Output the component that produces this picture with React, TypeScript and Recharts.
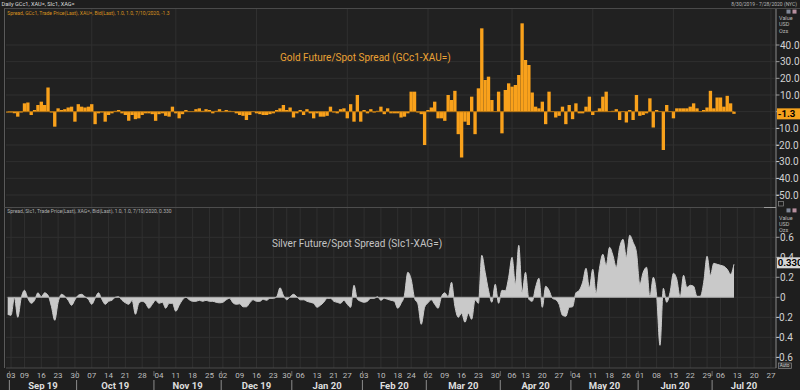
import React from 'react';
import { ComposedChart, Bar, Area, XAxis, YAxis, CartesianGrid, ReferenceLine } from 'recharts';

// ---- categories ----
const RANGE_START = '2019-08-30';
const RANGE_END = '2020-07-28';
const HOLIDAYS = ['2019-09-02', '2019-11-28', '2019-12-25', '2020-01-01', '2020-01-20', '2020-02-17', '2020-04-10', '2020-05-25', '2020-07-03'];

function tradingDays(start: string, end: string, holidays: string[]): string[] {
  const out: string[] = [];
  const d = new Date(start + 'T00:00:00Z');
  const e = new Date(end + 'T00:00:00Z');
  while (d <= e) {
    const wd = d.getUTCDay();
    const s = d.toISOString().slice(0, 10);
    if (wd !== 0 && wd !== 6 && holidays.indexOf(s) < 0) out.push(s);
    d.setUTCDate(d.getUTCDate() + 1);
  }
  return out;
}
const DATES = tradingDays(RANGE_START, RANGE_END, HOLIDAYS);

const WEEK_TICKS = [
  '2019-09-03', '2019-09-09', '2019-09-16', '2019-09-23', '2019-09-30',
  '2019-10-07', '2019-10-14', '2019-10-21', '2019-10-28',
  '2019-11-04', '2019-11-11', '2019-11-18', '2019-11-25',
  '2019-12-02', '2019-12-09', '2019-12-16', '2019-12-23', '2019-12-30',
  '2020-01-06', '2020-01-13', '2020-01-21', '2020-01-27',
  '2020-02-03', '2020-02-10', '2020-02-18', '2020-02-24',
  '2020-03-02', '2020-03-09', '2020-03-16', '2020-03-23', '2020-03-30',
  '2020-04-06', '2020-04-13', '2020-04-20', '2020-04-27',
  '2020-05-04', '2020-05-11', '2020-05-18', '2020-05-26',
  '2020-06-01', '2020-06-08', '2020-06-15', '2020-06-22', '2020-06-29',
  '2020-07-06', '2020-07-13', '2020-07-20', '2020-07-27',
];

const MONTHS: [string, string][] = [
  ['2019-09', 'Sep 19'], ['2019-10', 'Oct 19'], ['2019-11', 'Nov 19'], ['2019-12', 'Dec 19'],
  ['2020-01', 'Jan 20'], ['2020-02', 'Feb 20'], ['2020-03', 'Mar 20'], ['2020-04', 'Apr 20'],
  ['2020-05', 'May 20'], ['2020-06', 'Jun 20'], ['2020-07', 'Jul 20'],
];

const GOLD_TICKS = [-50, -40, -30, -20, -10, 0, 10, 20, 30, 40];
const SILVER_TICKS = [-0.6, -0.4, -0.2, 0, 0.2, 0.4, 0.6];

// ---- series values (GCc1 - XAU=, daily) ----
const GOLD = [
  -0.5, -0.5, -1, -3, -0.5, 5, 5.5, -2, 1, 4,
  6, 4, 14.5, -0.5, -9, 2, 1, 1.5, 2.5, 3,
  -6, 4.5, 3, 2.5, 3, 4.5, -7.5, -1, -0.5, -6,
  -2, -1, 0.5, 1, -1, -2, -5.5, -2, -4.5, -4,
  -2, -1, -1, -1.5, -5.5, -1.5, -1, -2.5, -3, 3,
  -1, -4, -1.5, 1, 0, 0, 1.5, 2, 0.5, 1.5,
  1, -1, 0.5, 1.5, 0, 1, 0.5, 0, -1, -2,
  -2.5, -5, -2, 0, -1, -1.5, -2, -2, -1.5, -1,
  1, 2, 4, 1, 2.5, -3.5, -1, 1, -2, 1.5,
  -1, -4, -1, -3, -3, -2.5, 3, -0.5, -1, 1.5,
  2, -4, 4.5, -6, 10, -6, 1, -1, 1.5, -0.5,
  0.5, 3, -1.5, 2, -1, -1, -1, -3.5, -3, -1,
  12, 12, -0.5, -1.5, -20, 1, 2.5, 6, -4, -4,
  -5.5, 10, 7, 12.5, -13.5, -27.5, -6, -8, 9, -13.5,
  14, 50, 19, 21, 7, 0, 12, -13, 13, 17,
  15, 16, 22, 53, 31, 28, 11.5, 3, 2, 6,
  -7.5, 12, 0, -3.5, -2.5, 3, -7.5, 4, -4.5, 5,
  -1, -1, 3, 9, -2, 0.5, 2, 9, 12, 0,
  0.5, 1.5, -5, 0, -6.5, 1, -5, 10, -2.5, -2,
  -1, 8, -9.5, 1, 0, -23, 4, 0, -4, 2,
  2, 2, 2, 3, 5, 2, 0, 1, 2.5, 12.5,
  2, 8.5, 8.5, 3, 9.5, 5, -1.3,
];

// ---- series values (SIc1 - XAG=, daily) ----
const SILVER = [
  -0.17, -0.18, 0, -0.2, -0.01, 0.07, -0.01, -0.06, -0.03, 0.045,
  0.005, 0.045, 0.02, -0.09, -0.23, -0.05, 0.03, 0.01, -0.03, -0.08,
  -0.025, 0.02, 0.03, 0.005, -0.02, -0.07, -0.01, 0.045, -0.02, -0.07,
  -0.04, -0.03, 0, 0.005, -0.03, -0.055, -0.07, -0.03, -0.17, -0.06,
  -0.04, -0.06, -0.11, -0.07, -0.03, -0.06, -0.05, -0.11, -0.06, -0.06,
  -0.14, -0.08, -0.025, 0, -0.025, -0.04, -0.04, -0.03, -0.04, -0.03,
  -0.04, -0.04, -0.05, -0.055, -0.05, -0.025, -0.01, -0.055, -0.07, -0.065,
  -0.095, -0.095, -0.055, -0.025, -0.04, -0.04, -0.02, -0.03, -0.01, -0.01,
  0.005, 0.095, 0.02, -0.025, 0.005, 0.03, 0.005, -0.025, -0.025, -0.04,
  -0.05, -0.06, -0.1, -0.08, -0.05, -0.01, -0.01, -0.04, -0.05, -0.06,
  -0.03, -0.07, -0.1, 0.12, -0.02, -0.04, -0.05, -0.04, -0.01, -0.01,
  0.005, -0.03, -0.01, -0.02, -0.03, -0.04, -0.11, -0.06, 0.02, 0.25,
  0.18, -0.01, -0.065, -0.27, -0.1, -0.055, -0.025, -0.07, -0.11, 0.005,
  0.045, 0.005, 0.15, -0.09, -0.2, -0.16, -0.25, -0.16, -0.22, -0.025,
  -0.06, 0.42, 0.25, 0.07, -0.05, 0.13, -0.06, 0.07, 0.065, 0.2,
  0.4, 0.13, 0.52, 0.05, 0.25, -0.02, -0.04, 0.1, 0.19, -0.1,
  0.11, 0.07, -0.01, -0.025, -0.07, -0.18, -0.19, -0.1, -0.095, 0.045,
  0.07, 0.15, 0.29, 0.095, 0.28, 0.04, 0.29, 0.43, 0.32, 0.5,
  0.42, 0.3, 0.5, 0.58, 0.4, 0.62, 0.55, 0.45, 0.13, 0.25,
  0.3, 0, 0.2, 0.02, -0.48, 0.09, -0.05, 0.05, 0.24, 0.18,
  0, 0.22, 0.1, 0.12, 0.11, 0.01, 0.01, 0.15, 0.41, 0.22,
  0.34, 0.33, 0.32, 0.31, 0.28, 0.23, 0.33,
];

// ---- layout / style ----
const FONT = "Roboto, 'Liberation Sans', Arial, sans-serif";
const W = 800;
const PLOT_LEFT = 6;
const AXIS_W = 24;
const BW = (W - PLOT_LEFT - AXIS_W) / DATES.length;
const BG = '#1e1e1e';
const PLOT_BG = '#212121';
const GRID = '#303030';
const ORANGE = '#f9a11b';
const SILVER_C = '#c9c9c9';

const DATA = DATES.map((d, i) => ({
  d,
  gold: i < GOLD.length ? GOLD[i] : null,
  silver: i < SILVER.length ? SILVER[i] : null,
}));
const LAST_DATE = DATES[GOLD.length - 1];
const GOLD_LAST = GOLD[GOLD.length - 1];
const SILVER_LAST = SILVER[SILVER.length - 1];

const WEEK_SET = new Set(WEEK_TICKS);
const MONTH_INFO: Record<string, { label: string; n: number }> = {};
MONTHS.forEach(([pre, label]) => {
  const days = DATES.filter((d) => d.startsWith(pre));
  if (days.length) MONTH_INFO[days[0]] = { label, n: days.length };
});
const X_TICKS = DATES.filter((d) => WEEK_SET.has(d) || MONTH_INFO[d]);

// y tick: plain ticks, plus the "last value" box drawn last (on top)
const YTick = (p: any) => {
  const { x, y, payload, fmt, boxValue, boxText, boxBg, boxDy, hideValue } = p;
  const v = Number(payload.value);
  if (payload.index === p.boxIndex && v === boxValue) {
    return (
      <g>
        <rect x={x + 1} y={y - 5.5 + boxDy} width={23} height={11} fill={boxBg} />
        <text x={x + 1.8} y={y + 3.6 + boxDy} fontSize={9.6} fontWeight="bold" fill="#000" fontFamily={FONT}>
          {boxText}
        </text>
      </g>
    );
  }
  const neg = v < 0;
  return (
    <g>
      <line x1={x} x2={x + 3.5} y1={y} y2={y} stroke="#9c9c9c" strokeWidth={1} />
      {v !== hideValue && (
        <text x={neg ? x + 0.3 : x + 4} y={y + 3.6} fontSize={10} fill="#d2d2d2" fontFamily={FONT}>
          {fmt(v)}
        </text>
      )}
    </g>
  );
};

const XTick = (p: any) => {
  const { x, y, payload } = p;
  const d = String(payload.value);
  const m = MONTH_INFO[d];
  const sx = x - BW / 2;
  return (
    <g fontFamily={FONT}>
      {WEEK_SET.has(d) && (
        <text x={x} y={y + 10} textAnchor="middle" fontSize={8} fill="#bdbdbd">
          {d.slice(8)}
        </text>
      )}
      {m && <line x1={sx} x2={sx} y1={y + 3} y2={y + 8} stroke="#6a6a6a" />}
      {m && <line x1={sx} x2={sx} y1={y + 12} y2={y + 22} stroke="#8c8c8c" />}
      {m && (
        <text x={sx + (m.n * BW) / 2} y={y + 20.5} textAnchor="middle" fontSize={9.5} fontWeight="bold" fill="#dedede">
          {m.label}
        </text>
      )}
    </g>
  );
};

const GOLD_AXIS_TICKS = [...GOLD_TICKS, GOLD_LAST];
const SILVER_AXIS_TICKS = [...SILVER_TICKS, SILVER_LAST];

const TopChart = () => (
  <ComposedChart
    width={W}
    height={207}
    data={DATA}
    margin={{ top: 9, right: 0, bottom: 0, left: PLOT_LEFT }}
    barCategoryGap={0}
    barGap={0}
  >
    <CartesianGrid stroke={GRID} fill={PLOT_BG} verticalValues={WEEK_TICKS} horizontalValues={GOLD_TICKS} />
    <XAxis dataKey="d" hide ticks={WEEK_TICKS} />
    <YAxis
      orientation="right"
      width={AXIS_W}
      domain={[-57.2, 61.6]}
      ticks={GOLD_AXIS_TICKS}
      allowDataOverflow
      axisLine={{ stroke: '#8a8a8a' }}
      tickLine={false}
      tickSize={0}
      tickMargin={0}
      interval={0}
      tick={(p: any) => (
        <YTick
          {...p}
          fmt={(v: number) => v.toFixed(1)}
          boxIndex={GOLD_AXIS_TICKS.length - 1}
          boxValue={GOLD_LAST}
          boxText={GOLD_LAST.toFixed(1)}
          boxBg="#f5a21d"
          boxDy={0}
          hideValue={0}
        />
      )}
    />
    <Bar dataKey="gold" fill={ORANGE} barSize={BW - 0.01} isAnimationActive={false} />
    <ReferenceLine
      segment={[{ x: DATES[0], y: 0 }, { x: LAST_DATE, y: 0 }]}
      stroke="#b77612"
      strokeWidth={1}
    />
  </ComposedChart>
);

const BottomChart = () => (
  <ComposedChart width={W} height={183} data={DATA} margin={{ top: 0, right: 0, bottom: 0, left: PLOT_LEFT }}>
    <CartesianGrid stroke={GRID} fill={PLOT_BG} verticalValues={WEEK_TICKS} horizontalValues={SILVER_TICKS} />
    <XAxis
      dataKey="d"
      scale="band"
      height={22}
      ticks={X_TICKS}
      interval={0}
      axisLine={{ stroke: '#4a4a4a' }}
      tickLine={false}
      tickSize={0}
      tickMargin={0}
      tick={(p: any) => <XTick {...p} />}
    />
    <YAxis
      orientation="right"
      width={AXIS_W}
      domain={[-0.707, 0.903]}
      ticks={SILVER_AXIS_TICKS}
      allowDataOverflow
      axisLine={{ stroke: '#8a8a8a' }}
      tickLine={false}
      tickSize={0}
      tickMargin={0}
      interval={0}
      tick={(p: any) => (
        <YTick
          {...p}
          fmt={(v: number) => (v === 0 ? '0' : v.toFixed(1))}
          boxIndex={SILVER_AXIS_TICKS.length - 1}
          boxValue={SILVER_LAST}
          boxText={SILVER_LAST.toFixed(3)}
          boxBg="#d6d6d6"
          boxDy={-1.5}
          hideValue={null}
        />
      )}
    />
    <Area
      dataKey="silver"
      type="monotone"
      stroke={SILVER_C}
      strokeWidth={1}
      fill={SILVER_C}
      fillOpacity={1}
      baseValue={0}
      isAnimationActive={false}
    />
    <ReferenceLine
      segment={[{ x: DATES[0], y: 0 }, { x: LAST_DATE, y: 0 }]}
      stroke="#a8a8a8"
      strokeWidth={1}
    />
  </ComposedChart>
);

const Buttons = ({ y }: { y: number }) => (
  <g>
    <rect x={786.5} y={y} width={4} height={4} fill="#7f8798" />
    <rect x={792.5} y={y} width={4} height={4} fill="#b78f9e" />
  </g>
);

const Overlay = () => (
  <svg width={W} height={390} style={{ position: 'absolute', left: 0, top: 0, pointerEvents: 'none' }} fontFamily={FONT}>
    {/* panel frame */}
    <line x1={4} x2={800} y1={8.5} y2={8.5} stroke="#4a4a4a" />
    <line x1={4.5} x2={4.5} y1={8.5} y2={368} stroke="#5a5a5a" />
    <line x1={4} x2={776} y1={207.5} y2={207.5} stroke="#4d4d4d" />
    <line x1={764} x2={776} y1={207.5} y2={207.5} stroke="#9a9a9a" />
    {/* header */}
    <text x={1.5} y={5.8} fontSize={5.6} fill="#dcdcdc">Daily GCc1, XAU=, SIc1, XAG=</text>
    <text x={797} y={5.8} fontSize={5} fill="#b5b5b5" textAnchor="end">8/30/2019 - 7/28/2020 (NYC)</text>
    <text x={7.3} y={14.5} fontSize={5} fill="#d8921f">
      Spread, GCc1, Trade Price(Last), XAU=, Bid(Last), 1.0, 1.0, 7/10/2020, -1.3
    </text>
    <text x={7.3} y={212.8} fontSize={5} fill="#b0b0b0">
      Spread, SIc1, Trade Price(Last), XAG=, Bid(Last), 1.0, 1.0, 7/10/2020, 0.330
    </text>
    {/* titles */}
    <text x={280} y={60.5} fontSize={10} fill="#eba234">Gold Future/Spot Spread (GCc1-XAU=)</text>
    <text x={272} y={246.5} fontSize={10} fill="#c4c4c4">Silver Future/Spot Spread (SIc1-XAG=)</text>
    {/* unit labels */}
    <text x={779} y={20} fontSize={5.5} fill="#b8b8b8">Value</text>
    <text x={779} y={26.3} fontSize={5.5} fill="#b8b8b8">USD</text>
    <text x={779} y={32.6} fontSize={5.5} fill="#b8b8b8">Ozs</text>
    <text x={779} y={219.5} fontSize={5.5} fill="#b8b8b8">Value</text>
    <text x={779} y={225.8} fontSize={5.5} fill="#b8b8b8">USD</text>
    <text x={779} y={232.1} fontSize={5.5} fill="#b8b8b8">Ozs</text>
    <Buttons y={9.6} />
    <Buttons y={208.4} />
    {/* small widgets */}
    <rect x={778.5} y={201.5} width={5} height={4.5} fill="none" stroke="#8a8a8a" strokeWidth={0.7} />
    <rect x={778.5} y={363} width={13} height={5.5} fill="#2a2a2a" stroke="#8a8a8a" strokeWidth={0.7} />
    <text x={779.7} y={367.4} fontSize={4.6} fill="#cfcfcf">Auto</text>
  </svg>
);

export default function App() {
  return (
    <div
      style={{
        position: 'absolute',
        left: 0,
        top: 0,
        width: W,
        height: 390,
        background: BG,
        overflow: 'hidden',
        fontFamily: FONT,
      }}
    >
      <div style={{ position: 'absolute', left: 0, top: 0 }}>
        <TopChart />
      </div>
      <div style={{ position: 'absolute', left: 0, top: 207 }}>
        <BottomChart />
      </div>
      <Overlay />
    </div>
  );
}
